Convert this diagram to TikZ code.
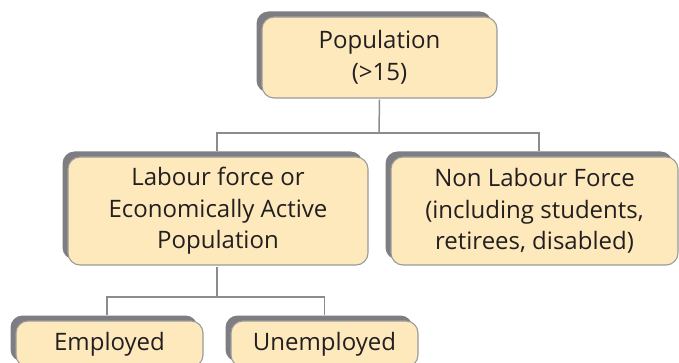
\documentclass[tikz,border=0pt]{standalone}
\usepackage{fontspec}
\setmainfont{Open Sans}
\usetikzlibrary{shadows}
\definecolor{boxfill}{HTML}{FDE9BC}
\definecolor{boxline}{HTML}{9A9A9A}
\definecolor{shadowgray}{HTML}{7E7E82}
\definecolor{linkgray}{HTML}{8C8C8C}
\definecolor{textcol}{HTML}{231F20}
\tikzset{
  box/.style={rectangle, rounded corners=12pt, fill=boxfill, draw=boxline, line width=1.1pt,
    align=center, inner sep=0pt, font=\fontsize{24}{31.5}\selectfont, text=textcol,
    drop shadow={shadow xshift=-5.5pt, shadow yshift=5.5pt, opacity=1, fill=shadowgray}},
  link/.style={draw=linkgray, line width=1.5pt}
}
\begin{document}
\begin{tikzpicture}[x=1pt,y=-1pt]
\useasboundingbox (0,0) rectangle (679,363);
\clip (0,0) rectangle (679,363);
\node[box, minimum width=235pt, minimum height=81pt] (pop) at (379.5,57.5) {Population\\(>15)};
\node[box, minimum width=300pt, minimum height=108pt] (lab) at (218,211) {Labour force or\\Economically Active\\Population};
\node[box, minimum width=287pt, minimum height=108pt] (nl) at (534.5,211) {Non Labour Force\\(including students,\\retirees, disabled)};
\node[box, minimum width=187pt, minimum height=46pt] (emp) at (109.5,344) {Employed};
\node[box, minimum width=187pt, minimum height=46pt] (unemp) at (324.5,344) {Unemployed};
\coordinate (j1) at (379,133);
\coordinate (j2) at (217,297);
\draw[link] ([yshift=-1pt]pop.south) -- (j1);
\draw[link] ([xshift=-1pt,yshift=5pt]lab.north) |- (j1) -| ([xshift=4.5pt,yshift=5pt]nl.north);
\draw[link] ([xshift=-1pt,yshift=-1pt]lab.south) -- (j2);
\draw[link] ([xshift=-2.5pt,yshift=5pt]emp.north) |- (j2) -| ([yshift=5pt]unemp.north);
\end{tikzpicture}
\end{document}
